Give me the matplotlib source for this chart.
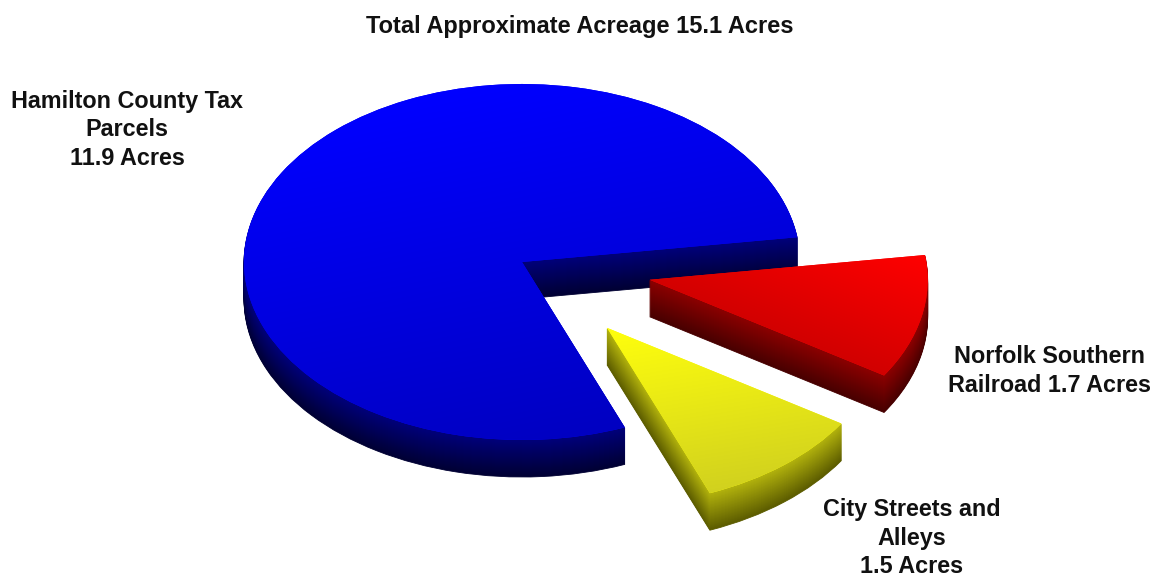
import numpy as np
import matplotlib
matplotlib.use("Agg")
import matplotlib.pyplot as plt

# Parcel breakdown (acres)
labels = ["Hamilton County Tax\nParcels\n11.9 Acres",
          "City Streets and\nAlleys\n1.5 Acres",
          "Norfolk Southern\nRailroad 1.7 Acres"]
acres = [11.9, 1.5, 1.7]
title = "Total Approximate Acreage 15.1 Acres"

explode = [0.0, 0.48, 0.47]
start_angle = 8

# face colours: (bright, dark) for tops, (upper, lower) for side walls
top_colors = [((0.00, 0.00, 1.00), (0.00, 0.00, 0.76)),
              ((1.00, 1.00, 0.05), (0.82, 0.82, 0.12)),
              ((1.00, 0.00, 0.00), (0.82, 0.00, 0.00))]
top_dirs = [(0.35, -1.0), (0.25, -1.0), (-0.6, -1.0)]
wall_colors = [((0.00, 0.00, 0.48), (0.00, 0.00, 0.20)),
               ((0.70, 0.70, 0.05), (0.36, 0.36, 0.00)),
               ((0.55, 0.00, 0.00), (0.28, 0.00, 0.00))]

W, H = 1157, 578
fig = plt.figure(figsize=(W / 100, H / 100), dpi=100)
ax = fig.add_axes([0, 0, 1, 1])

# pixel geometry of the tilted disc
cx_px, cy_px, rx_px, ry_px = 522, 262, 278, 178
depth = 37 / ry_px
n_layers = 37


def mix(c0, c1, t):
    return tuple(a + (b - a) * t for a, b in zip(c0, c1))


# side walls: stack of shifted pies, darkest at the bottom
for k in range(n_layers, 0, -1):
    t = k / n_layers
    cols = [mix(w[0], w[1], t) for w in wall_colors]
    ax.pie(acres, explode=explode, startangle=start_angle, colors=cols,
           center=(0, -k * depth / n_layers), radius=1.0,
           wedgeprops=dict(linewidth=0.6, edgecolor="none"))
    for p in ax.patches[-3:]:
        p.set_edgecolor(p.get_facecolor())

# top faces
wedges, _ = ax.pie(acres, explode=explode, startangle=start_angle,
                   colors=[c[0] for c in top_colors], center=(0, 0), radius=1.0,
                   wedgeprops=dict(linewidth=0))

for wedge, (c0, c1), (dx, dy) in zip(wedges, top_colors, top_dirs):
    cx, cy = wedge.center
    x0, x1 = cx - 1.05, cx + 1.05
    y0, y1 = cy - 1.05, cy + 1.05
    xs = np.linspace(x0, x1, 300)
    ys = np.linspace(y0, y1, 300)
    X, Y = np.meshgrid(xs, ys)
    # restrict the gradient span to the wedge's own angular range
    th = np.deg2rad(np.linspace(wedge.theta1, wedge.theta2, 60))
    px = np.concatenate([[cx], cx + np.cos(th)])
    py = np.concatenate([[cy], cy + np.sin(th)])
    n = np.hypot(dx, dy)
    proj_pts = (px * dx + py * dy) / n
    proj = (X * dx + Y * dy) / n
    t = np.clip((proj - proj_pts.min()) / (proj_pts.max() - proj_pts.min()), 0, 1)
    img = np.zeros(X.shape + (3,))
    for i in range(3):
        img[..., i] = c0[i] + (c1[i] - c0[i]) * t
    im = ax.imshow(img, extent=[x0, x1, y0, y1], origin="lower",
                   aspect="auto", interpolation="bilinear", zorder=wedge.get_zorder() + 0.1)
    im.set_clip_path(wedge)

ax.set_aspect("auto")
ax.set_xlim(-cx_px / rx_px, (W - cx_px) / rx_px)
ax.set_ylim(-(H - cy_px) / ry_px, cy_px / ry_px)
ax.axis("off")

fig.text(580 / W, 1 - 27 / H, title, ha="center", va="center",
         fontsize=17, fontweight="bold",
         family=["Liberation Sans", "DejaVu Sans"], color="#111111")

label_pos = [(127, 130), (912, 538), (1050, 371)]
for text, (lx, ly) in zip(labels, label_pos):
    fig.text(lx / W, 1 - ly / H, text, ha="center", va="center",
             fontsize=16.8, fontweight="bold", linespacing=1.3,
             family=["Liberation Sans", "DejaVu Sans"], color="#111111")

fig.savefig("out.png", dpi=100, facecolor="white")
